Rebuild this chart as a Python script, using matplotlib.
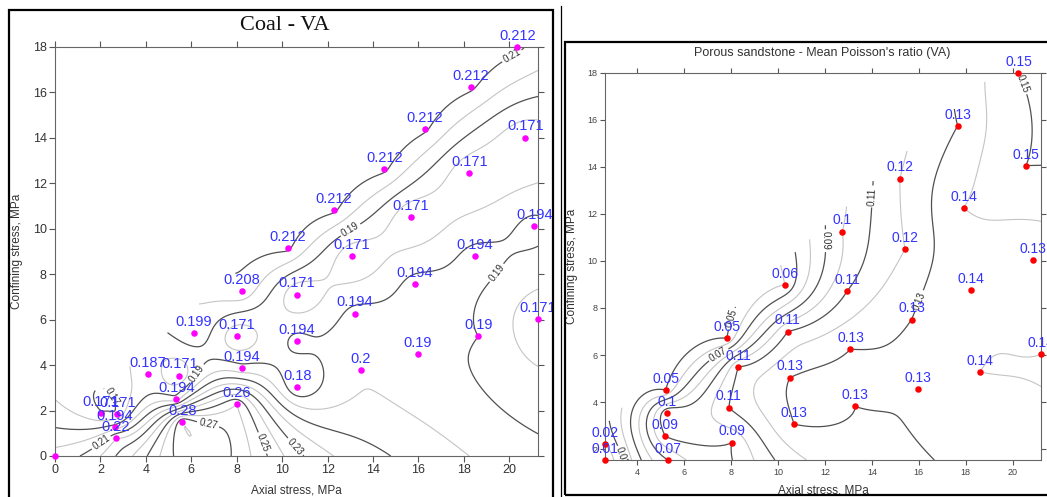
import numpy as np
import matplotlib
matplotlib.use("Agg")
import matplotlib.pyplot as plt
from matplotlib.patches import Rectangle
from matplotlib.lines import Line2D
from matplotlib.transforms import Bbox, TransformedBbox

plt.rcParams['font.family'] = ['Liberation Sans', 'DejaVu Sans']

W, H = 1047, 497

# Coal - VA (axial stress, confining stress, Poisson's ratio)
coal_x = [20.35, 18.3, 16.27, 20.7, 14.49, 18.24, 12.28, 15.67, 21.1, 10.24,
          13.06, 18.48, 8.21, 10.63, 15.84, 13.19, 21.26, 6.12, 7.99, 10.63,
          18.63, 15.97, 13.45, 4.08, 5.48, 8.21, 10.66, 5.34, 8.0, 5.6,
          2.01, 2.74, 2.64, 2.69, 0.0]
coal_y = [18.0, 16.23, 14.39, 14.0, 12.6, 12.44, 10.82, 10.52, 10.11, 9.13,
          8.78, 8.78, 7.25, 7.1, 7.57, 6.26, 6.03, 5.41, 5.26, 5.07,
          5.26, 4.5, 3.78, 3.6, 3.54, 3.85, 3.03, 2.5, 2.28, 1.5,
          1.88, 1.84, 1.29, 0.78, 0.0]
coal_v = [0.212, 0.212, 0.212, 0.171, 0.212, 0.171, 0.212, 0.171, 0.194, 0.212,
          0.171, 0.194, 0.208, 0.171, 0.194, 0.194, 0.171, 0.199, 0.171, 0.194,
          0.19, 0.19, 0.2, 0.187, 0.171, 0.194, 0.18, 0.194, 0.26, 0.28,
          0.171, 0.171, 0.194, 0.22, np.nan]

# Porous sandstone - mean Poisson's ratio (VA)
sand_x = [20.24, 17.65, 20.55, 15.19, 17.91, 12.74, 15.41, 20.86, 10.29, 12.95,
          18.23, 7.84, 10.41, 15.69, 13.09, 21.2, 8.3, 10.5, 18.59, 15.95,
          5.22, 5.28, 7.91, 13.29, 10.68, 5.19, 8.05, 2.64, 2.64, 5.32]
sand_y = [18.0, 15.74, 14.04, 13.5, 12.26, 11.25, 10.5, 10.03, 8.99, 8.73,
          8.76, 6.72, 7.0, 7.51, 6.25, 6.03, 5.5, 5.04, 5.28, 4.56,
          4.51, 3.52, 3.77, 3.83, 3.06, 2.56, 2.28, 2.21, 1.55, 1.54]
sand_v = [0.15, 0.13, 0.15, 0.12, 0.14, 0.1, 0.12, 0.13, 0.06, 0.11,
          0.14, 0.05, 0.11, 0.13, 0.13, 0.14, 0.11, 0.13, 0.14, 0.13,
          0.05, 0.1, 0.11, 0.13, 0.13, 0.09, 0.09, 0.02, 0.01, 0.07]

coal_levels = np.round(np.arange(0.17, 0.285, 0.01), 2)
sand_levels = np.round(np.arange(0.01, 0.155, 0.01), 2)


def krige(px, py, pv, gx, gy):
    # point kriging with a linear variogram (dual form)
    n = len(px)
    d = np.hypot(px[:, None] - px[None, :], py[:, None] - py[None, :])
    A = np.zeros((n + 1, n + 1))
    A[:n, :n] = d
    A[:n, n] = 1
    A[n, :n] = 1
    sol = np.linalg.solve(A, np.append(pv, 0.0))
    dg = np.hypot(gx[..., None] - px, gy[..., None] - py)
    return dg @ sol[:n] + sol[n]


def upper_edge(px, py):
    pts = sorted(zip(px, py))
    hull = []
    for p in pts:
        while len(hull) >= 2:
            o, a = hull[-2], hull[-1]
            cr = (a[0] - o[0]) * (p[1] - o[1]) - (a[1] - o[1]) * (p[0] - o[0])
            if cr >= 0:
                hull.pop()
            else:
                break
        hull.append(p)
    hull = np.array(hull)
    top = np.argmax(hull[:, 1])
    return hull[:top + 1]


def panel(ax, x, y, v, levels, margin, dot, lab_size, frame_clip=None):
    x = np.asarray(x); y = np.asarray(y); v = np.asarray(v)
    ok = ~np.isnan(v)
    gx, gy = np.meshgrid(np.linspace(x.min(), x.max(), 220),
                         np.linspace(y.min(), y.max(), 220))
    z = krige(x[ok], y[ok], v[ok], gx, gy)
    edge = upper_edge(x[ok], y[ok])
    lim = np.interp(gx, edge[:, 0], edge[:, 1], right=1e9) + margin
    z = np.ma.masked_where(gy > lim, z)

    light = [l for l in levels if round(l * 100) % 2 == 0]
    dark = [l for l in levels if round(l * 100) % 2 == 1]
    ax.contour(gx, gy, z, levels=light, colors='#c4c4c4', linewidths=0.8)
    cs = ax.contour(gx, gy, z, levels=dark, colors='#505050', linewidths=0.9)
    ax.clabel(cs, fmt='%.2f', fontsize=7, colors='#303030', inline_spacing=2)

    ax.scatter(x, y, s=22, color=dot, zorder=5, clip_on=False, linewidths=0)
    for xi, yi, vi in zip(x, y, v):
        if np.isnan(vi):
            continue
        t = ax.annotate(f"{vi:g}", (xi, yi), xytext=(0, 3), textcoords='offset points',
                        ha='center', va='bottom', fontsize=lab_size, color='#3333ff',
                        zorder=6, annotation_clip=False)
        if frame_clip is not None:
            t.set_clip_box(frame_clip)
            t.set_clip_on(True)

    ax.set_xlim(x.min(), x.max())
    ax.set_ylim(y.min(), y.max())
    for s in ax.spines.values():
        s.set_color('#666666')
        s.set_linewidth(0.8)


fig = plt.figure(figsize=(W / 100, H / 100), dpi=100)

# frames
fig.add_artist(Rectangle((9 / W, -0.02), (553 - 9) / W, 1 - 10 / H + 0.02,
                         transform=fig.transFigure, fill=False, lw=1.6, ec='black'))
fig.add_artist(Line2D([560.7 / W] * 2, [0, 1 - 6 / H], transform=fig.transFigure,
                      color='black', lw=0.9))
fig.add_artist(Rectangle((565 / W, 1 - 495 / H), 1.02 - 565 / W, (495 - 42.3) / H,
                         transform=fig.transFigure, fill=False, lw=1.6, ec='black'))

ax1 = fig.add_axes([55 / W, 1 - 456 / H, (538 - 55) / W, (456 - 46.7) / H])
clip1 = TransformedBbox(Bbox([[9 / W, 0], [553 / W, 1 - 10 / H]]), fig.transFigure)
panel(ax1, coal_x, coal_y, coal_v, coal_levels, 1.0, '#ff00ff', 10.5, clip1)
ax1.set_xticks(np.arange(0, 21, 2))
ax1.set_yticks(np.arange(0, 19, 2))
ax1.tick_params(direction='out', length=4, width=0.8, color='#555555', labelcolor='#333333',
                labelsize=9, pad=2, top=True, right=True)
ax1.set_xlabel('Axial stress, MPa', fontsize=8.5, color='#333333', labelpad=6)
ax1.set_ylabel('Confining stress, MPa', fontsize=8.5, color='#333333', labelpad=7)
fig.text(285 / W, 1 - 25 / H, 'Coal - VA', family='Liberation Serif', fontsize=16,
         ha='center', va='center', color='#111111')

ax2 = fig.add_axes([605 / W, 1 - 460 / H, (1041 - 605) / W, (460 - 72.7) / H])
panel(ax2, sand_x, sand_y, sand_v, sand_levels, 0.9, '#ff0000', 10)
ax2.set_xticks(np.arange(4, 21, 2))
ax2.set_yticks(np.arange(2, 19, 2))
ax2.tick_params(direction='out', length=3.5, width=0.8, color='#555555', labelcolor='#444444',
                labelsize=6.5, pad=2, top=True, right=True)
ax2.set_xlabel('Axial stress, MPa', fontsize=8.5, color='#333333', labelpad=6)
ax2.set_ylabel('Confining stress, MPa', fontsize=8.5, color='#333333', labelpad=7)
fig.text(822 / W, 1 - 53 / H, "Porous sandstone - Mean Poisson's ratio (VA)", fontsize=9,
         ha='center', va='center', color='#333333')

fig.savefig('out.png', dpi=100)
